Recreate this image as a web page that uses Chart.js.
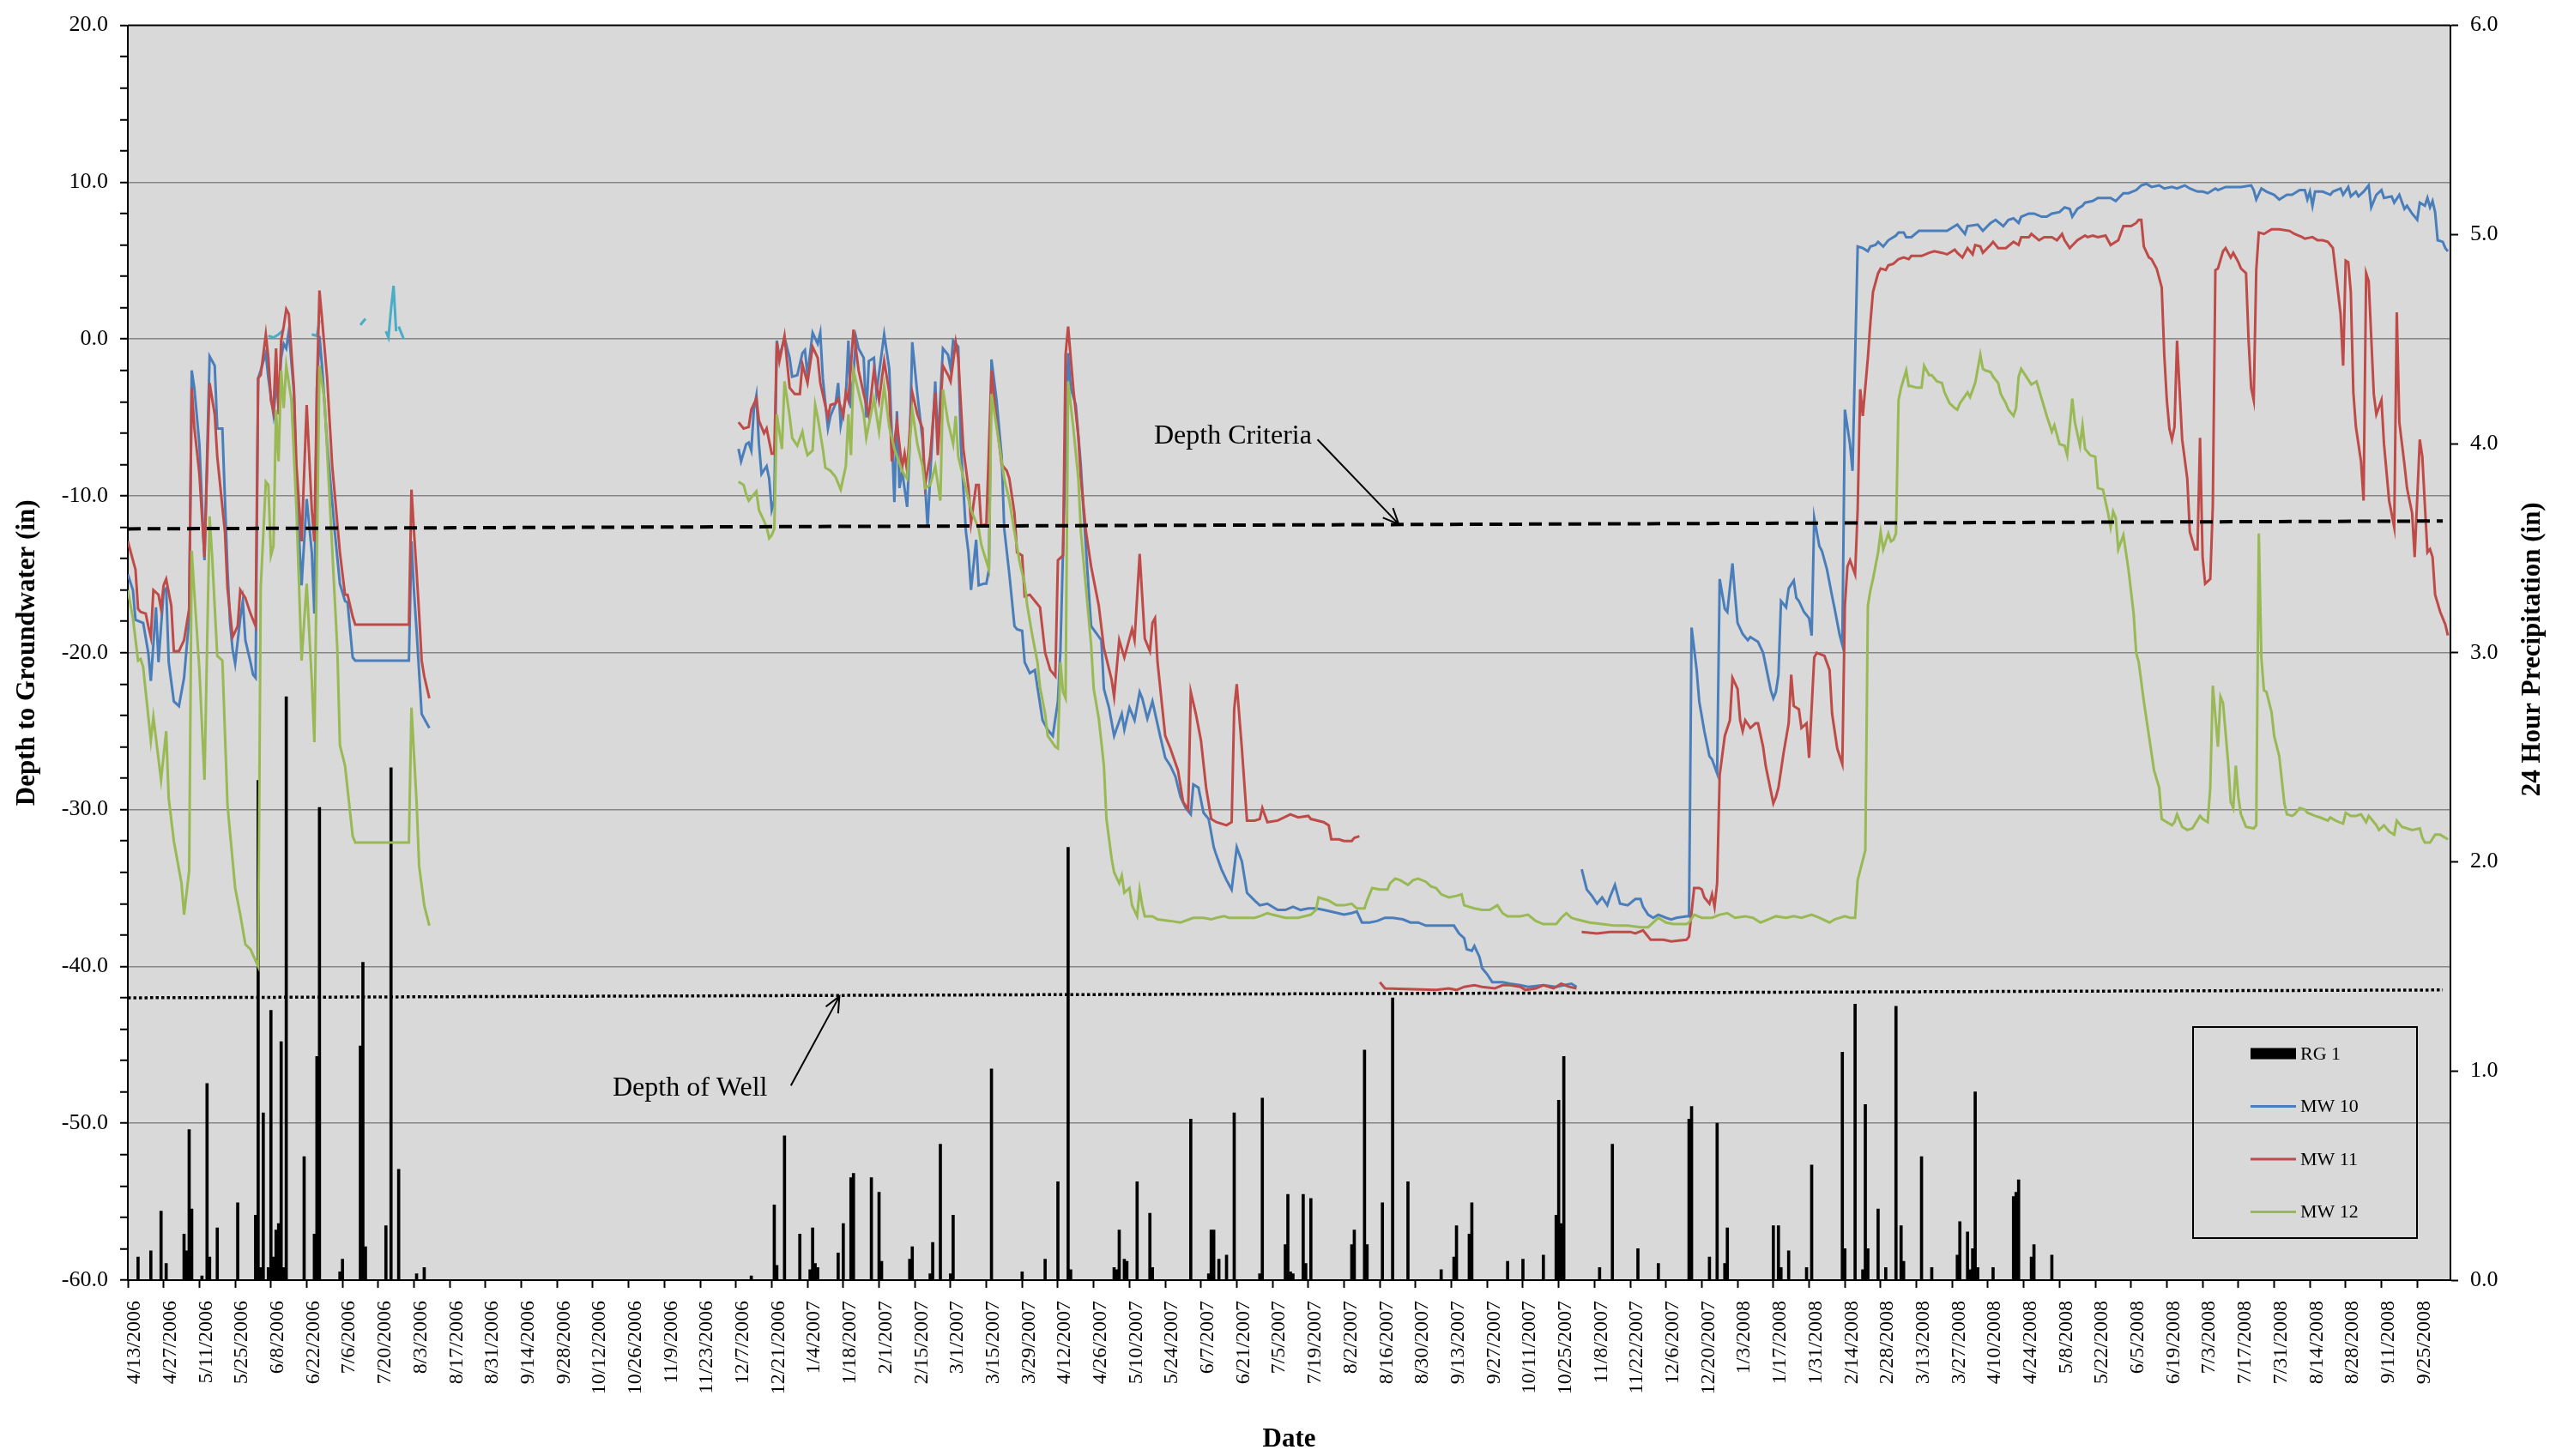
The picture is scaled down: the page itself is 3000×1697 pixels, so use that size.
<!DOCTYPE html>
<html>
<head>
<meta charset="utf-8">
<title>Depth to Groundwater</title>
<script src="https://cdn.jsdelivr.net/npm/chart.js@4.4.1/dist/chart.umd.min.js"></script>
<style>
  html, body { margin: 0; padding: 0; background: #fff; }
  #wrap { width: 3000px; height: 1697px; }
</style>
</head>
<body>
<div id="wrap"><canvas id="gwChart" width="3000" height="1697"></canvas></div>
<script>
// x values are days counted from 4/13/2006
const tickLabels = [
  "4/13/2006", "4/27/2006", "5/11/2006", "5/25/2006", "6/8/2006", "6/22/2006", "7/6/2006", "7/20/2006",
  "8/3/2006", "8/17/2006", "8/31/2006", "9/14/2006", "9/28/2006", "10/12/2006", "10/26/2006", "11/9/2006",
  "11/23/2006", "12/7/2006", "12/21/2006", "1/4/2007", "1/18/2007", "2/1/2007", "2/15/2007", "3/1/2007",
  "3/15/2007", "3/29/2007", "4/12/2007", "4/26/2007", "5/10/2007", "5/24/2007", "6/7/2007", "6/21/2007",
  "7/5/2007", "7/19/2007", "8/2/2007", "8/16/2007", "8/30/2007", "9/13/2007", "9/27/2007", "10/11/2007",
  "10/25/2007", "11/8/2007", "11/22/2007", "12/6/2007", "12/20/2007", "1/3/2008", "1/17/2008", "1/31/2008",
  "2/14/2008", "2/28/2008", "3/13/2008", "3/27/2008", "4/10/2008", "4/24/2008", "5/8/2008", "5/22/2008",
  "6/5/2008", "6/19/2008", "7/3/2008", "7/17/2008", "7/31/2008", "8/14/2008", "8/28/2008", "9/11/2008",
  "9/25/2008"
];

// 24 hour precipitation (in), [day, value]
const rg1 = [
  [4,0.11],[9,0.14],[13,0.33],[15,0.08],[22,0.22],[23,0.14],[24,0.72],[25,0.34],[29,0.02],[31,0.94],[32,0.11],
  [35,0.25],[43,0.37],[50,0.31],[51,2.39],[52,0.06],[53,0.80],[55,0.06],[56,1.29],[57,0.11],[58,0.24],[59,0.27],
  [60,1.14],[61,0.06],[62,2.79],[69,0.59],[73,0.22],[74,1.07],[75,2.26],[83,0.04],[84,0.10],[91,1.12],[92,1.52],
  [93,0.16],[101,0.26],[103,2.45],[106,0.53],[113,0.03],[116,0.06],
  [244,0.02],[253,0.36],[254,0.07],[257,0.69],[263,0.22],[267,0.05],[268,0.25],[269,0.08],[270,0.06],[278,0.13],
  [280,0.27],[283,0.49],[284,0.51],[291,0.49],[294,0.42],[295,0.09],[306,0.10],[307,0.16],[314,0.03],[315,0.18],
  [318,0.65],[322,0.03],[323,0.31],[338,1.01],[350,0.04],[359,0.10],[364,0.47],[368,2.07],[369,0.05],[386,0.06],
  [387,0.05],[388,0.24],[390,0.10],[391,0.09],[395,0.47],[400,0.32],[401,0.06],[416,0.77],[423,0.03],[424,0.24],
  [425,0.24],[427,0.10],[430,0.12],[433,0.80],[443,0.03],[444,0.87],
  [453,0.17],[454,0.41],[455,0.04],[456,0.03],[460,0.41],[461,0.08],[463,0.39],[479,0.17],[480,0.24],[484,1.10],
  [485,0.17],[491,0.37],[495,1.35],[501,0.47],[514,0.05],[519,0.11],[520,0.26],[525,0.22],[526,0.37],[540,0.09],
  [546,0.10],[554,0.12],[559,0.31],[560,0.86],[561,0.27],[562,1.07],[576,0.06],[581,0.65],[591,0.15],[599,0.08],
  [611,0.77],[612,0.83],[619,0.11],[622,0.75],[625,0.08],[626,0.25],[644,0.26],[646,0.26],[647,0.06],[650,0.14],
  [657,0.06],[659,0.55],[671,1.09],[672,0.15],[676,1.32],[679,0.05],[680,0.84],[681,0.15],[685,0.34],[688,0.06],
  [692,1.31],[694,0.26],[695,0.09],[702,0.59],[706,0.06],[716,0.12],[717,0.28],[720,0.23],[721,0.05],[722,0.15],
  [723,0.90],[724,0.06],[730,0.06],[738,0.40],[739,0.42],[740,0.48],[745,0.11],[746,0.17],[753,0.12]
];

// depth to groundwater (in), [day, value]; null = no reading
const mw10 = [
  [0,-15.0],[2,-16.0],[3,-17.9],[6,-18.1],[8,-20.0],[9,-21.8],[11,-17.1],[12,-20.6],[14,-16.1],[15,-15.9],[16,-20.6],
  [18,-23.1],[20,-23.4],[22,-21.6],[24,-17.8],[25,-2.0],[26,-3.1],[28,-6.7],[30,-14.1],[32,-1.1],[34,-1.7],[35,-5.7],
  [37,-5.7],[39,-14.7],[40,-18.1],[41,-19.8],[42,-20.7],[44,-17.8],[45,-16.7],[46,-19.2],[48,-20.6],[49,-21.4],
  [50,-21.6],[51,-2.5],[52,-2.0],[54,-0.9],[55,-2.5],[57,-4.8],[58,-3.1],[59,-3.9],[60,-1.2],[61,-0.3],[62,-0.6],
  [63,0.5],[65,-3.4],[66,-9.5],[68,-15.7],[70,-10.2],[72,-13.6],[73,-17.5],[74,-3.1],[75,0.2],[76,-1.7],[78,-6.7],
  [81,-12.3],[83,-15.6],[85,-16.7],[86,-16.8],[88,-20.3],[89,-20.5],[110,-20.5],[111,-12.9],[112,-16.1],[113,-18.6],
  [115,-23.9],[118,-24.8],
  [180,null],
  [239,-7.0],[240,-7.8],[242,-6.7],[243,-6.6],[244,-7.1],[245,-4.5],[246,-3.6],[247,-6.7],[248,-8.6],[250,-8.1],
  [251,-8.9],[252,-10.9],[253,-10.3],[254,-0.1],[255,-1.2],[257,0.1],[259,-1.2],[260,-2.4],[262,-2.3],[264,-0.9],
  [265,-0.7],[266,-2.3],[268,0.4],[270,-0.3],[271,0.4],[272,-2.5],[274,-5.7],[275,-4.9],[277,-4.1],[278,-2.8],
  [279,-5.5],[281,-3.7],[282,-0.1],[283,-4.4],[285,0.1],[286,-0.6],[288,-1.2],[289,-5.0],[290,-1.4],[292,-1.2],
  [293,-3.4],[296,0.3],[298,-1.9],[300,-10.4],[301,-4.6],[302,-9.5],[303,-8.4],[305,-10.7],[306,-6.7],[307,-0.2],
  [309,-3.5],[311,-6.4],[313,-12.0],[314,-8.8],[316,-2.7],[317,-6.7],[319,-0.6],[321,-1.0],[322,-1.9],[323,-0.1],
  [325,-0.5],[326,-6.7],[328,-12.3],[329,-13.6],[330,-16.0],[332,-12.8],[333,-15.7],[335,-15.6],[336,-15.6],
  [337,-14.7],[338,-1.3],[340,-3.9],[342,-7.5],[343,-12.1],[345,-15.0],[347,-18.3],[348,-18.5],[350,-18.6],
  [351,-20.6],[353,-21.3],[355,-21.1],[356,-22.2],[358,-24.3],[360,-24.9],[362,-25.3],[364,-23.1],[365,-19.8],
  [368,-0.9],[369,-3.1],[371,-4.2],[373,-8.1],[374,-10.9],[376,-15.9],[377,-18.3],[381,-19.2],[382,-22.3],
  [384,-23.5],[386,-25.3],[389,-23.9],[390,-24.9],[392,-23.5],[394,-24.3],[396,-22.5],[397,-22.9],[399,-24.2],
  [401,-23.1],[404,-25.3],[406,-26.7],[408,-27.2],[410,-27.9],[412,-29.2],[414,-29.9],[416,-30.3],[417,-28.4],
  [419,-28.6],[421,-30.2],[423,-30.6],[425,-32.4],[426,-32.9],[428,-33.8],[430,-34.5],[432,-35.1],[434,-32.4],
  [436,-33.3],[438,-35.3],[441,-35.8],[443,-36.1],[446,-36.0],[450,-36.4],[453,-36.4],[456,-36.2],[459,-36.4],
  [462,-36.3],[465,-36.3],[468,-36.4],[471,-36.5],[476,-36.7],[479,-36.6],[481,-36.5],[483,-37.2],[486,-37.2],
  [489,-37.1],[492,-36.9],[495,-36.9],[499,-37.0],[502,-37.2],[505,-37.2],[508,-37.4],[512,-37.4],[515,-37.4],
  [519,-37.4],[521,-37.9],[523,-38.2],[524,-38.9],[526,-39.0],[527,-38.7],[529,-39.4],[530,-40.1],[532,-40.5],
  [534,-41.0],[538,-41.0],[541,-41.1],[545,-41.2],[548,-41.3],[554,-41.2],[559,-41.3],[562,-41.2],[565,-41.1],
  [567,-41.3],
  [568,null],
  [569,-33.8],[571,-35.1],[573,-35.5],[575,-36.0],[577,-35.6],[579,-36.1],[580,-35.6],[582,-34.8],[584,-36.0],
  [587,-36.1],[590,-35.7],[592,-35.7],[593,-36.2],[595,-36.7],[597,-36.9],[599,-36.7],[602,-36.9],[604,-37.0],
  [606,-36.9],[610,-36.8],[611,-36.8],[612,-18.4],[614,-21.1],[615,-23.1],[617,-25.0],[619,-26.6],[620,-26.8],
  [622,-27.7],[623,-15.3],[625,-17.2],[626,-17.4],[628,-14.3],[629,-16.3],[630,-18.1],[632,-18.8],[634,-19.2],
  [635,-19.0],[637,-19.2],[638,-19.3],[640,-20.0],[641,-20.8],[643,-22.4],[644,-22.9],[645,-22.5],[646,-21.4],
  [647,-16.7],[649,-17.1],[650,-15.9],[652,-15.4],[653,-16.5],[654,-16.7],[656,-17.4],[658,-17.8],[659,-18.9],
  [660,-11.4],[662,-13.2],[663,-13.5],[665,-14.7],[667,-16.4],[668,-17.2],[670,-18.9],[671,-19.5],[672,-4.5],
  [674,-6.7],[675,-8.4],[677,5.9],[679,5.8],[681,5.6],[682,5.9],[684,6.0],[685,6.2],[687,5.9],[689,6.3],[692,6.6],
  [693,6.8],[695,6.8],[696,6.5],[698,6.5],[701,6.9],[705,6.9],[709,6.9],[712,6.9],[715,7.2],[716,7.3],[719,6.7],
  [720,7.2],[724,7.3],[726,6.9],[729,7.4],[731,7.6],[734,7.2],[736,7.6],[738,7.7],[740,7.4],[741,7.8],[744,8.0],
  [746,8.0],[749,7.8],[751,7.8],[753,8.0],[756,8.1],[758,8.4],[760,8.3],[761,7.8],[763,8.3],[765,8.5],[766,8.7],
  [769,8.8],[771,9.0],[774,9.0],[776,9.0],[778,8.8],[781,9.3],[783,9.3],[786,9.5],[788,9.8],[790,9.9],[792,9.7],
  [795,9.8],[797,9.6],[800,9.7],[802,9.6],[805,9.8],[807,9.6],[810,9.4],[812,9.4],[814,9.3],[817,9.6],[818,9.5],
  [821,9.7],[824,9.7],[827,9.7],[831,9.8],[832,9.5],[833,8.9],[835,9.6],[837,9.4],[840,9.2],[842,8.9],[845,9.2],
  [847,9.2],[850,9.5],[852,9.5],[853,8.9],[854,9.4],[855,8.5],[856,9.4],[859,9.4],[862,9.2],[863,9.4],[866,9.6],
  [867,9.2],[869,9.7],[870,9.1],[872,9.4],[873,9.1],[875,9.4],[877,9.8],[878,8.4],[880,9.2],[882,9.5],[883,9.0],
  [886,9.1],[887,8.7],[889,9.2],[891,8.3],[892,8.5],[894,8.0],[896,7.6],[897,8.7],[899,8.5],[900,9.0],[901,8.4],
  [902,8.8],[903,8.1],[904,6.3],[906,6.2],[907,5.8],[908,5.6]
];

const mw11 = [
  [0,-12.9],[3,-14.7],[4,-17.2],[5,-17.4],[7,-17.5],[8,-18.3],[9,-19.0],[10,-16.0],[12,-16.3],[13,-17.2],[14,-15.7],
  [15,-15.3],[17,-17.0],[18,-19.9],[20,-19.9],[22,-19.2],[24,-17.2],[25,-3.1],[26,-5.6],[28,-8.6],[30,-13.9],
  [32,-2.8],[34,-4.8],[35,-7.5],[38,-12.3],[39,-15.9],[41,-19.0],[43,-18.3],[44,-16.0],[46,-16.5],[48,-17.5],
  [50,-18.3],[51,-2.5],[52,-2.3],[54,0.3],[55,-1.2],[56,-3.9],[57,-4.6],[58,-0.6],[59,-4.8],[60,-0.1],[61,0.8],
  [62,1.9],[63,1.6],[65,-3.1],[66,-8.1],[68,-12.9],[70,-4.2],[72,-10.9],[73,-12.9],[74,-3.1],[75,3.1],[76,1.3],
  [78,-2.5],[80,-8.1],[83,-13.6],[85,-16.3],[86,-16.3],[88,-17.7],[89,-18.2],[110,-18.2],[111,-9.6],[112,-12.3],
  [113,-14.8],[114,-17.5],[115,-20.5],[116,-21.5],[118,-22.9],
  [180,null],
  [239,-5.3],[241,-5.7],[243,-5.6],[244,-4.5],[246,-3.8],[247,-5.2],[249,-6.0],[250,-5.7],[252,-7.3],[253,-7.3],
  [254,-0.2],[255,-1.4],[257,0.2],[259,-3.1],[261,-3.5],[263,-3.5],[264,-1.6],[266,-2.8],[268,-0.5],[270,-1.2],
  [271,-2.8],[274,-5.0],[275,-4.2],[277,-4.1],[278,-3.8],[280,-4.9],[281,-3.4],[282,-3.9],[284,0.6],[286,-2.0],
  [288,-3.5],[290,-4.9],[292,-2.0],[294,-3.9],[296,-1.4],[298,-3.4],[299,-7.8],[301,-5.3],[303,-8.2],[304,-7.3],
  [305,-8.4],[307,-3.4],[309,-4.8],[311,-5.7],[312,-9.3],[314,-7.5],[316,-3.4],[317,-7.4],[319,-1.7],[321,-2.3],
  [322,-2.7],[324,-0.2],[325,-1.2],[327,-7.0],[329,-9.5],[330,-11.7],[332,-9.3],[333,-9.3],[334,-11.9],[336,-11.8],
  [338,-2.0],[340,-5.3],[342,-8.0],[344,-8.4],[345,-8.9],[347,-11.1],[348,-13.6],[350,-13.8],[351,-16.4],
  [353,-16.3],[355,-16.7],[357,-17.1],[359,-20.0],[361,-21.1],[363,-21.5],[364,-14.1],[366,-13.8],[367,-1.0],
  [368,0.8],[370,-3.1],[372,-6.2],[373,-8.9],[375,-12.3],[377,-14.5],[380,-17.0],[382,-19.7],[385,-21.7],
  [386,-22.8],[388,-19.2],[390,-20.3],[393,-18.5],[394,-19.2],[396,-13.7],[398,-19.1],[400,-19.9],[401,-18.1],
  [402,-17.8],[403,-20.6],[406,-25.3],[408,-26.1],[411,-27.5],[413,-29.5],[415,-30.0],[416,-22.5],[418,-23.9],
  [420,-25.6],[422,-28.6],[424,-30.6],[426,-30.8],[430,-31.0],[432,-30.8],[433,-23.6],[434,-22.0],[436,-26.1],
  [438,-30.7],[441,-30.7],[443,-30.6],[444,-29.9],[446,-30.8],[450,-30.7],[455,-30.3],[458,-30.5],[462,-30.4],
  [463,-30.6],[468,-30.8],[470,-31.0],[471,-31.9],[474,-31.9],[476,-32.0],[479,-32.0],[480,-31.8],[482,-31.7],
  [486,null],
  [490,-41.0],[492,-41.4],[512,-41.5],[517,-41.4],[520,-41.5],[523,-41.3],[527,-41.2],[530,-41.3],[535,-41.4],
  [538,-41.2],[541,-41.2],[545,-41.3],[547,-41.5],[551,-41.4],[554,-41.2],[558,-41.4],[561,-41.1],[564,-41.3],
  [567,-41.4],
  [568,null],
  [569,-37.8],[575,-37.9],[580,-37.8],[588,-37.8],[590,-37.9],[593,-37.7],[594,-37.9],[596,-38.3],[601,-38.3],
  [604,-38.4],[610,-38.3],[611,-38.1],[613,-35.0],[615,-35.0],[616,-35.1],[617,-35.6],[619,-36.0],[620,-35.4],
  [621,-36.2],[622,-34.7],[623,-27.8],[625,-25.3],[627,-24.3],[628,-21.6],[630,-22.3],[631,-24.3],[632,-25.0],
  [633,-24.3],[635,-24.8],[637,-24.5],[638,-24.5],[640,-26.0],[641,-27.2],[644,-29.6],[645,-29.2],[646,-28.6],
  [648,-26.4],[650,-24.5],[651,-21.4],[652,-23.4],[654,-23.6],[655,-24.8],[657,-24.5],[658,-26.7],[660,-20.3],
  [661,-20.0],[664,-20.2],[666,-21.1],[667,-23.9],[669,-26.1],[671,-27.1],[672,-17.0],[673,-14.5],[674,-14.1],
  [676,-15.0],[677,-10.9],[678,-3.2],[679,-4.9],[681,-1.2],[682,1.1],[683,3.0],[685,4.2],[686,4.5],[688,4.4],
  [689,4.7],[691,4.8],[693,5.1],[695,5.2],[697,5.1],[698,5.3],[700,5.3],[702,5.3],[705,5.5],[707,5.6],[710,5.5],
  [712,5.4],[715,5.7],[716,5.5],[718,5.2],[720,5.8],[722,5.4],[723,6.0],[725,5.9],[726,5.5],[729,6.0],[730,6.2],
  [732,5.8],[735,5.8],[738,6.2],[740,6.0],[741,6.5],[744,6.5],[745,6.7],[748,6.3],[750,6.5],[753,6.5],[755,6.3],
  [757,6.7],[758,6.3],[760,5.8],[763,6.3],[766,6.6],[767,6.5],[769,6.6],[771,6.5],[774,6.6],[776,6.0],[779,6.3],
  [781,7.2],[782,7.2],[784,7.2],[786,7.4],[787,7.6],[788,7.6],[789,5.9],[791,5.2],[792,5.1],[794,4.5],[796,3.3],
  [797,-1.0],[798,-3.9],[799,-5.7],[800,-6.4],[801,-5.6],[802,-0.1],[804,-6.4],[806,-8.9],[807,-12.3],[809,-13.4],
  [810,-13.4],[811,-6.3],[812,-13.9],[813,-15.6],[815,-15.3],[816,-10.6],[817,4.4],[818,4.5],[820,5.6],[821,5.8],
  [823,5.2],[824,5.5],[826,4.9],[827,4.5],[829,4.2],[830,-0.1],[831,-3.1],[832,-3.9],[833,4.4],[834,6.8],[836,6.7],
  [839,7.0],[842,7.0],[846,6.9],[848,6.7],[851,6.5],[852,6.4],[855,6.5],[857,6.3],[859,6.3],[861,6.2],[863,5.8],
  [864,4.4],[866,1.6],[867,-1.7],[868,5.0],[869,4.9],[870,3.0],[871,-3.4],[872,-5.6],[874,-7.8],[875,-10.3],
  [876,4.2],[877,3.7],[879,-3.5],[880,-4.8],[882,-3.9],[883,-6.7],[885,-10.3],[887,-12.0],[888,1.7],[889,-5.3],
  [891,-8.0],[892,-9.5],[894,-11.1],[895,-13.9],[897,-6.4],[898,-7.5],[899,-10.6],[900,-13.6],[901,-13.4],
  [902,-13.9],[903,-16.3],[905,-17.4],[907,-18.2],[908,-18.9]
];

const mw12 = [
  [0,-16.0],[2,-17.8],[4,-20.5],[5,-20.4],[6,-20.9],[7,-22.5],[9,-25.6],[10,-24.1],[13,-28.1],[15,-25.0],[16,-29.3],
  [18,-32.0],[21,-34.7],[22,-36.7],[24,-33.9],[25,-13.5],[26,-16.1],[28,-21.1],[30,-28.1],[32,-11.3],[33,-13.9],
  [35,-20.2],[37,-20.5],[39,-29.7],[42,-35.0],[44,-36.7],[46,-38.6],[48,-38.9],[51,-40.0],[52,-15.9],[54,-9.1],
  [55,-9.3],[56,-13.8],[57,-13.2],[58,-4.5],[59,-7.8],[60,-2.0],[61,-4.4],[62,-1.7],[64,-3.9],[66,-10.9],[68,-20.5],
  [70,-15.6],[72,-21.8],[73,-25.7],[75,-1.7],[77,-3.9],[82,-19.8],[83,-25.9],[85,-27.2],[88,-31.7],[89,-32.1],
  [110,-32.1],[111,-23.5],[113,-29.5],[114,-33.6],[116,-36.1],[118,-37.4],
  [180,null],
  [239,-9.1],[241,-9.3],[242,-9.9],[243,-10.3],[245,-9.9],[246,-9.7],[247,-10.9],[249,-11.6],[250,-12.0],[251,-12.7],
  [252,-12.5],[253,-12.1],[254,-4.8],[256,-7.0],[257,-2.7],[259,-4.9],[260,-6.3],[262,-6.8],[264,-5.9],[265,-6.8],
  [266,-7.4],[268,-7.1],[269,-4.2],[270,-5.0],[272,-7.0],[273,-8.2],[275,-8.4],[277,-8.8],[278,-9.2],[279,-9.6],
  [281,-8.1],[282,-4.8],[283,-7.4],[284,-2.0],[286,-3.4],[288,-4.8],[289,-6.3],[292,-3.8],[294,-5.9],[296,-3.0],
  [298,-5.6],[300,-7.0],[303,-8.4],[305,-8.9],[307,-4.5],[309,-6.7],[311,-8.1],[312,-9.5],[314,-9.3],[316,-8.1],
  [318,-10.3],[319,-3.2],[321,-5.3],[323,-6.7],[324,-4.9],[325,-7.5],[328,-9.5],[330,-10.9],[333,-12.1],[334,-13.1],
  [337,-14.7],[338,-3.5],[340,-5.6],[342,-7.8],[343,-8.9],[345,-10.3],[347,-12.3],[349,-14.2],[351,-15.6],
  [352,-17.0],[354,-18.9],[356,-20.6],[357,-22.2],[359,-23.9],[360,-25.3],[363,-26.0],[364,-26.1],[365,-20.6],
  [366,-22.5],[367,-22.9],[368,-2.7],[370,-5.6],[372,-8.9],[373,-12.3],[375,-15.9],[377,-19.5],[378,-22.3],
  [380,-24.2],[382,-27.2],[383,-30.6],[385,-33.1],[386,-34.0],[388,-34.7],[389,-34.2],[390,-35.3],[392,-35.0],
  [393,-36.1],[395,-36.8],[396,-35.1],[397,-36.1],[398,-36.8],[401,-36.8],[403,-37.0],[408,-37.1],[412,-37.2],
  [417,-36.9],[421,-36.9],[424,-37.0],[426,-36.9],[429,-36.8],[431,-36.9],[436,-36.9],[441,-36.9],[443,-36.8],
  [446,-36.6],[448,-36.7],[453,-36.9],[458,-36.9],[463,-36.7],[465,-36.4],[466,-35.6],[470,-35.8],[473,-36.1],
  [476,-36.1],[479,-36.0],[481,-36.3],[484,-36.3],[485,-35.8],[487,-35.0],[490,-35.1],[493,-35.1],[494,-34.7],
  [496,-34.4],[498,-34.5],[501,-34.8],[503,-34.5],[505,-34.4],[508,-34.6],[510,-34.9],[512,-35.0],[514,-35.4],
  [517,-35.6],[520,-35.5],[522,-35.4],[523,-36.1],[527,-36.3],[530,-36.4],[533,-36.4],[536,-36.1],[538,-36.6],
  [540,-36.8],[545,-36.8],[548,-36.7],[551,-37.1],[554,-37.3],[559,-37.3],[561,-36.9],[563,-36.6],[565,-36.9],
  [567,-37.0],[572,-37.2],[577,-37.3],[582,-37.4],[587,-37.4],[592,-37.5],[595,-37.5],[597,-37.2],[599,-36.9],
  [602,-37.2],[605,-37.3],[610,-37.3],[611,-37.2],[613,-36.7],[616,-36.9],[620,-36.9],[623,-36.7],[626,-36.6],
  [629,-36.9],[633,-36.8],[636,-36.9],[639,-37.2],[642,-37.0],[645,-36.8],[649,-36.9],[652,-36.8],[655,-36.9],
  [659,-36.7],[662,-36.9],[666,-37.2],[668,-37.0],[672,-36.8],[674,-36.9],[676,-36.9],[677,-34.5],[680,-32.6],
  [681,-17.0],[682,-16.0],[683,-15.3],[685,-13.6],[686,-12.3],[687,-13.4],[688,-12.9],[689,-12.4],[690,-12.9],
  [691,-12.8],[692,-12.4],[693,-3.9],[694,-3.1],[696,-2.0],[697,-3.0],[698,-3.0],[700,-3.1],[702,-3.1],[703,-1.7],
  [705,-2.3],[706,-2.3],[708,-2.7],[710,-2.8],[711,-3.4],[713,-4.1],[715,-4.4],[716,-4.5],[717,-4.1],[720,-3.4],
  [721,-3.7],[723,-2.8],[725,-1.0],[726,-1.9],[727,-2.0],[729,-2.1],[730,-2.4],[732,-2.8],[733,-3.5],[735,-4.1],
  [736,-4.5],[738,-4.9],[739,-4.4],[740,-2.4],[741,-1.9],[743,-2.4],[745,-2.9],[747,-2.7],[749,-3.8],[751,-4.9],
  [753,-5.9],[754,-5.5],[756,-6.7],[758,-6.8],[759,-7.4],[761,-3.8],[762,-5.3],[764,-6.8],[765,-5.5],[766,-7.0],
  [768,-7.4],[770,-7.5],[771,-9.5],[773,-9.6],[775,-11.1],[776,-12.0],[777,-11.0],[778,-11.4],[779,-13.4],
  [781,-12.5],[783,-14.7],[785,-17.5],[786,-20.0],[787,-20.6],[789,-23.1],[791,-25.3],[793,-27.5],[795,-28.6],
  [796,-30.6],[798,-30.8],[800,-31.0],[801,-30.8],[802,-30.3],[804,-31.1],[806,-31.3],[808,-31.2],[811,-30.4],
  [812,-30.6],[814,-30.8],[815,-28.6],[816,-22.1],[818,-26.0],[819,-22.8],[820,-23.2],[822,-27.0],[823,-29.5],
  [824,-29.9],[825,-27.2],[826,-29.2],[827,-30.3],[829,-31.1],[832,-31.2],[833,-31.0],[834,-12.4],[835,-20.3],
  [836,-22.4],[837,-22.5],[839,-23.8],[840,-25.3],[842,-26.6],[844,-29.6],[845,-30.3],[847,-30.4],[848,-30.3],
  [850,-29.9],[852,-30.0],[853,-30.2],[856,-30.4],[858,-30.5],[861,-30.7],[862,-30.5],[864,-30.7],[867,-30.9],
  [868,-30.2],[870,-30.4],[872,-30.4],[874,-30.3],[876,-30.8],[877,-30.4],[878,-30.6],[880,-31.0],[881,-31.3],
  [883,-31.0],[885,-31.4],[887,-31.6],[888,-30.7],[890,-31.1],[892,-31.2],[894,-31.3],[897,-31.2],[898,-31.8],
  [899,-32.1],[901,-32.1],[903,-31.6],[905,-31.6],[908,-31.9]
];

// short broken record near 0 in summer 2006 (no legend entry)
const mwExtra = [
  [55,0.2],[57,0.1],[59,0.3],[61,0.6],[66,null],[72,0.3],[74,0.2],[75,1.2],[80,null],[91,0.9],[93,1.3],[97,null],
  [101,0.5],[102,0.1],[103,1.9],[104,3.4],[105,0.5],[105.5,null],[106,0.8],[108,0.0]
];

const depthCriteria = [[0,-12.1],[906,-11.6]];
const depthOfWell = [[0,-42.0],[906,-41.5]];

const COLORS = { mw10: "#4a7ebb", mw11: "#be4b48", mw12: "#98b954", extra: "#4bacc6" };
const FONT = "'Liberation Serif', 'Times New Roman', Times, serif";

// annotation anchors in data units [day, depth]
const notes = [
  { text: "Depth Criteria", at: [401.6, -6.2], from: [465.6, -6.4], to: [497.4, -11.8] },
  { text: "Depth of Well", at: [189.7, -47.8], from: [259.5, -47.6], to: [278.5, -41.9] }
];

const legendItems = [
  { label: "RG 1", kind: "bar", color: "#000" },
  { label: "MW 10", kind: "line", color: COLORS.mw10 },
  { label: "MW 11", kind: "line", color: COLORS.mw11 },
  { label: "MW 12", kind: "line", color: COLORS.mw12 }
];

const toPoints = (pairs) => pairs.map(p => ({ x: p[0], y: p[1] }));

function lineSet(label, pairs, color, extra) {
  return Object.assign({
    type: "line",
    label: label,
    data: toPoints(pairs),
    borderColor: color,
    backgroundColor: color,
    borderWidth: 3,
    pointRadius: 0,
    tension: 0,
    fill: false,
    spanGaps: false,
    yAxisID: "y"
  }, extra || {});
}

function drawArrow(ctx, x1, y1, x2, y2) {
  const ang = Math.atan2(y2 - y1, x2 - x1);
  const len = 20, spread = 0.42;
  ctx.beginPath();
  ctx.moveTo(x1, y1);
  ctx.lineTo(x2, y2);
  ctx.moveTo(x2 - len * Math.cos(ang - spread), y2 - len * Math.sin(ang - spread));
  ctx.lineTo(x2, y2);
  ctx.lineTo(x2 - len * Math.cos(ang + spread), y2 - len * Math.sin(ang + spread));
  ctx.stroke();
}

const sheetDecor = {
  id: "sheetDecor",
  beforeDraw(chart) {
    const { ctx, chartArea: a } = chart;
    ctx.save();
    ctx.fillStyle = "#ffffff";
    ctx.fillRect(0, 0, chart.width, chart.height);
    ctx.fillStyle = "#d9d9d9";
    ctx.fillRect(a.left, a.top, a.right - a.left, a.bottom - a.top);
    ctx.restore();
  },
  afterDraw(chart) {
    const { ctx, chartArea: a, scales } = chart;
    const sx = scales.x, sy = scales.y;
    ctx.save();

    // top frame line
    ctx.strokeStyle = "#000";
    ctx.lineWidth = 2;
    ctx.beginPath();
    ctx.moveTo(a.left, a.top);
    ctx.lineTo(a.right, a.top);
    ctx.stroke();

    // callouts
    ctx.fillStyle = "#000";
    ctx.font = "32px " + FONT;
    ctx.textAlign = "left";
    ctx.textBaseline = "middle";
    notes.forEach(n => {
      ctx.fillText(n.text, sx.getPixelForValue(n.at[0]), sy.getPixelForValue(n.at[1]));
      drawArrow(ctx,
        sx.getPixelForValue(n.from[0]), sy.getPixelForValue(n.from[1]),
        sx.getPixelForValue(n.to[0]), sy.getPixelForValue(n.to[1]));
    });

    // legend box
    const bx = a.right - 300, by = a.bottom - 295, bw = 261, bh = 246;
    ctx.lineWidth = 2;
    ctx.strokeStyle = "#000";
    ctx.strokeRect(bx, by, bw, bh);
    ctx.font = "22px " + FONT;
    legendItems.forEach((it, i) => {
      const cy = by + 31 + i * 61.5;
      if (it.kind === "bar") {
        ctx.fillStyle = it.color;
        ctx.fillRect(bx + 67, cy - 6.5, 53, 13);
      } else {
        ctx.strokeStyle = it.color;
        ctx.lineWidth = 3;
        ctx.beginPath();
        ctx.moveTo(bx + 67, cy);
        ctx.lineTo(bx + 120, cy);
        ctx.stroke();
      }
      ctx.fillStyle = "#000";
      ctx.fillText(it.label, bx + 125, cy + 1);
    });

    // axis titles
    ctx.font = "bold 31px " + FONT;
    ctx.textAlign = "center";
    ctx.fillStyle = "#000";
    const midY = (a.top + a.bottom) / 2;
    ctx.save();
    ctx.translate(32, midY);
    ctx.rotate(-Math.PI / 2);
    ctx.fillText("Depth to Groundwater (in)", 0, 0);
    ctx.restore();
    ctx.save();
    ctx.translate(a.right + 96, midY - 4);
    ctx.rotate(-Math.PI / 2);
    ctx.fillText("24 Hour Precipitation (in)", 0, 0);
    ctx.restore();
    ctx.fillText("Date", (a.left + a.right) / 2, a.bottom + 186);

    ctx.restore();
  }
};

const ctx = document.getElementById("gwChart").getContext("2d");

const gwChart = new Chart(ctx, {
  type: "line",
  data: {
    datasets: [
      lineSet("Depth Criteria", depthCriteria, "#000", { borderWidth: 4, borderDash: [15, 8] }),
      lineSet("Depth of Well", depthOfWell, "#000", { borderWidth: 3.5, borderDash: [3.5, 3] }),
      lineSet("MW 12", mw12, COLORS.mw12),
      lineSet("MW 11", mw11, COLORS.mw11),
      lineSet("MW 10", mw10, COLORS.mw10),
      lineSet("", mwExtra, COLORS.extra),
      {
        type: "bar",
        label: "RG 1",
        data: toPoints(rg1),
        backgroundColor: "#000",
        borderWidth: 0,
        barThickness: 3,
        yAxisID: "y2"
      }
    ]
  },
  options: {
    responsive: false,
    animation: false,
    devicePixelRatio: 1,
    events: [],
    layout: { padding: { top: 19, left: 0, right: 0, bottom: 0 } },
    plugins: {
      legend: { display: false },
      tooltip: { enabled: false }
    },
    scales: {
      x: {
        type: "linear",
        min: 0,
        max: 909,
        offset: false,
        afterBuildTicks: (s) => { s.ticks = tickLabels.map((_, i) => ({ value: i * 14 })); },
        afterFit: (s) => { s.height = 205; },
        ticks: {
          autoSkip: false,
          minRotation: 90,
          maxRotation: 90,
          padding: 15,
          labelOffset: 8,
          color: "#000",
          font: { family: FONT, size: 24 },
          callback: (v, i) => tickLabels[i] || ""
        },
        grid: { drawOnChartArea: false, offset: false, tickLength: 9, tickColor: "#000", tickWidth: 2 },
        border: { color: "#000", width: 2 }
      },
      y: {
        type: "linear",
        position: "left",
        min: -60,
        max: 20,
        afterBuildTicks: (s) => {
          const t = [];
          for (let v = -60; v <= 20; v += 2) t.push({ value: v });
          s.ticks = t;
        },
        afterFit: (s) => { s.width = 149; },
        ticks: {
          autoSkip: false,
          padding: 14,
          color: "#000",
          font: { family: FONT, size: 26 },
          callback: (v) => (v % 10 === 0 ? v.toFixed(1) : "")
        },
        grid: {
          color: (c) => (c.tick && c.tick.value % 10 === 0 && c.tick.value > -60 && c.tick.value < 20)
            ? "#868686" : "rgba(0,0,0,0)",
          lineWidth: 1.5,
          tickLength: 9,
          tickColor: "#000",
          tickWidth: 2
        },
        border: { color: "#000", width: 2 }
      },
      y2: {
        type: "linear",
        position: "right",
        min: 0,
        max: 6,
        afterBuildTicks: (s) => { s.ticks = [0, 1, 2, 3, 4, 5, 6].map(v => ({ value: v })); },
        afterFit: (s) => { s.width = 144; },
        ticks: {
          padding: 14,
          color: "#000",
          font: { family: FONT, size: 26 },
          callback: (v) => v.toFixed(1)
        },
        grid: { drawOnChartArea: false, tickLength: 9, tickColor: "#000", tickWidth: 2 },
        border: { color: "#000", width: 2 }
      }
    }
  },
  plugins: [sheetDecor]
});
</script>
</body>
</html>
